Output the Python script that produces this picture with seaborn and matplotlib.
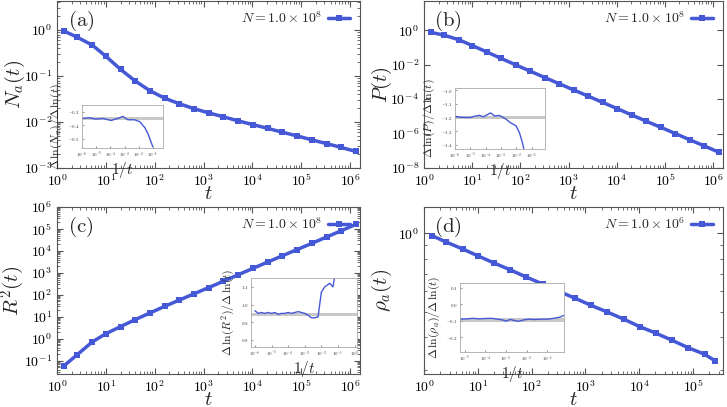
import matplotlib
matplotlib.use("Agg")
import matplotlib.pyplot as plt
from matplotlib.ticker import LogLocator, NullFormatter, FixedLocator
import pandas as pd
import seaborn as sns

# main curves
t_long = [1.4, 2.6, 5.3, 10, 20, 40, 80, 160, 320, 640, 1280, 2560, 5120,
          1.02e4, 2.05e4, 4.1e4, 8.2e4, 1.64e5, 3.3e5, 6.6e5, 1.3e6]
n_a = [0.95, 0.70, 0.47, 0.27, 0.14, 0.078, 0.048, 0.033, 0.025, 0.0195, 0.0158,
       0.0130, 0.0106, 0.0088, 0.0073, 0.0060, 0.0050, 0.0041, 0.0034, 0.0028, 0.0023]
p_surv = [0.75, 0.52, 0.28, 0.13, 0.055, 0.023, 0.0098, 0.0042, 0.0018, 7.8e-4,
          3.4e-4, 1.48e-4, 6.4e-5, 2.8e-5, 1.2e-5, 5.2e-6, 2.3e-6, 1.0e-6,
          4.3e-7, 1.9e-7, 8.3e-8]
r2 = [0.06, 0.19, 0.73, 1.7, 3.6, 7.5, 15, 30, 58, 112, 215, 420, 820,
      1600, 3100, 6000, 1.15e4, 2.2e4, 4.3e4, 8.3e4, 1.6e5]
t_short = [1.4, 2.6, 5.3, 10, 20, 40, 80, 160, 320, 640, 1280, 2560, 5120,
           1.02e4, 2.05e4, 4.1e4, 8.2e4, 1.64e5, 2.6e5]
rho_a = [0.98, 0.925, 0.87, 0.82, 0.77, 0.725, 0.68, 0.64, 0.60, 0.565, 0.53,
         0.50, 0.47, 0.44, 0.415, 0.39, 0.365, 0.345, 0.325]

# local slopes (insets), x = 1/t
inv_a = [1e-6, 3.2e-6, 9.5e-6, 2.8e-5, 1.1e-4, 3.3e-4, 7.6e-4, 1.7e-3, 5.1e-3,
         1.2e-2, 2.7e-2, 4.6e-2, 6.9e-2, 9.5e-2]
slope_a = [-0.35, -0.345, -0.355, -0.35, -0.365, -0.35, -0.335, -0.36, -0.36,
           -0.375, -0.42, -0.47, -0.52, -0.56]
inv_b = [1e-6, 2e-6, 5e-6, 1e-5, 2e-5, 4e-5, 7e-5, 2.1e-4, 4e-4,
         8e-4, 2e-3, 4.4e-3, 9.5e-3, 1.6e-2, 2.6e-2, 3.4e-2]
slope_b = [-1.19, -1.198, -1.20, -1.20, -1.19, -1.185, -1.195, -1.167, -1.19,
           -1.185, -1.21, -1.24, -1.26, -1.31, -1.39, -1.45]
inv_c = [1e-6, 1.6e-6, 2.5e-6, 4e-6, 6.3e-6, 1e-5, 1.6e-5, 2.5e-5, 4e-5, 6.3e-5,
         1e-4, 1.6e-4, 2.5e-4, 4e-4, 6.3e-4, 1e-3, 1.6e-3, 2.5e-3, 4e-3, 6.3e-3,
         1e-2, 1.6e-2, 3.2e-2, 5e-2, 8e-2]
slope_c = [0.965, 0.95, 0.955, 0.95, 0.955, 0.95, 0.955, 0.945, 0.95, 0.95,
           0.955, 0.95, 0.955, 0.96, 0.955, 0.95, 0.94, 0.925, 0.925, 0.93,
           1.07, 1.10, 1.12, 1.10, 1.22]
inv_d = [6.3e-6, 1.3e-5, 2.5e-5, 5e-5, 1e-4, 2e-4, 4e-4, 7e-4, 1e-3, 1.6e-3,
         2.5e-3, 4e-3, 7e-3, 1.2e-2, 2.5e-2, 5e-2, 1e-1, 2e-1, 4e-1, 6e-1]
slope_d = [-0.09, -0.088, -0.085, -0.088, -0.086, -0.085, -0.09, -0.095, -0.102,
           -0.092, -0.098, -0.103, -0.095, -0.09, -0.092, -0.09, -0.09, -0.085,
           -0.078, -0.068]

BLUE = "#4558d6"

sns.set_style("ticks")
plt.rcParams["font.family"] = ["serif"]
plt.rcParams["font.serif"] = ["cmr10", "DejaVu Serif"]
plt.rcParams["mathtext.fontset"] = "cm"
plt.rcParams["axes.formatter.use_mathtext"] = True
plt.rcParams["axes.unicode_minus"] = True

W, H = 727.0, 407.0


def rect(x0, y0, x1, y1):
    return [x0 / W, 1 - y1 / H, (x1 - x0) / W, (y1 - y0) / H]


def style_main(ax):
    ax.set_xscale("log")
    ax.set_yscale("log")
    ax.tick_params(which="both", direction="in", top=True, right=True,
                   colors="#555555", labelcolor="black", labelsize=10)
    ax.tick_params(which="major", length=4)
    ax.tick_params(which="minor", length=2)
    for s in ax.spines.values():
        s.set_color("#555555")
        s.set_linewidth(0.8)
    ax.xaxis.set_major_locator(LogLocator(base=10, numticks=12))
    ax.xaxis.set_minor_locator(LogLocator(base=10, subs=range(2, 10), numticks=12))
    ax.xaxis.set_minor_formatter(NullFormatter())
    ax.set_xlabel(r"$t$", fontsize=15)
    ax.xaxis.set_label_coords(0.5, -0.1)


def main_panel(pos, x, y, ylabel, letter, nlabel, xlim, ylim):
    ax = fig.add_axes(rect(*pos))
    df = pd.DataFrame({"t": x, "v": y})
    sns.lineplot(data=df, x="t", y="v", ax=ax, color=BLUE, linewidth=2.5,
                 marker="s", markersize=4, markeredgewidth=0, label=nlabel)
    style_main(ax)
    ax.set_xlim(*xlim)
    ax.set_ylim(*ylim)
    ax.set_ylabel(ylabel, fontsize=15)
    ax.yaxis.set_label_coords(-0.10, 0.5)
    ax.text(0.035, 0.88, letter, transform=ax.transAxes, fontsize=15,
            va="center", ha="left")
    ax.legend(loc="upper right", frameon=False, fontsize=10, handlelength=1.6,
              markerfirst=False, borderaxespad=0.3, handletextpad=0.4)
    return ax


def inset(pos, x, y, ylabel, xlim, ylim, yticks, band):
    ax = fig.add_axes(rect(*pos))
    ax.axhspan(band[0], band[1], color="#c8c8c8", zorder=0, lw=0)
    df = pd.DataFrame({"inv": x, "s": y})
    sns.lineplot(data=df, x="inv", y="s", ax=ax, color=BLUE, linewidth=1.0)
    ax.set_xscale("log")
    ax.set_xlim(*xlim)
    ax.set_ylim(*ylim)
    ax.yaxis.set_major_locator(FixedLocator(yticks))
    ax.xaxis.set_major_locator(LogLocator(base=10, numticks=12))
    ax.xaxis.set_minor_formatter(NullFormatter())
    ax.tick_params(which="both", direction="in", labelsize=3.5, length=1.5,
                   colors="#999999", labelcolor="#333333", pad=1.5)
    ax.tick_params(which="minor", length=0)
    for s in ax.spines.values():
        s.set_color("#aaaaaa")
        s.set_linewidth(0.6)
    ax.set_xlabel(r"$1/t$", fontsize=11, labelpad=0)
    ax.set_ylabel(ylabel, fontsize=8.5, labelpad=3)
    return ax


fig = plt.figure(figsize=(7.27, 4.07), dpi=100)

main_panel((57, 1, 360, 168), t_long, n_a, r"$N_a(t)$", r"$\mathrm{(a)}$",
           r"$N=1.0\times10^8$", (1, 1.6e6), (1e-3, 4.3))
main_panel((424, 1, 723, 168), t_long, p_surv, r"$P(t)$", r"$\mathrm{(b)}$",
           r"$N=1.0\times10^8$", (1, 1.6e6), (1e-8, 50))
axc = main_panel((57, 207, 360, 374), t_long, r2, r"$R^2(t)$", r"$\mathrm{(c)}$",
                 r"$N=1.0\times10^8$", (1, 1.6e6), (0.025, 1e6))
axc.yaxis.set_major_locator(LogLocator(base=10, numticks=20))
axc.yaxis.set_minor_locator(LogLocator(base=10, subs=range(2, 10), numticks=20))
axc.yaxis.set_minor_formatter(NullFormatter())
axd = main_panel((424, 207, 723, 374), t_short, rho_a, r"$\rho_a(t)$",
                 r"$\mathrm{(d)}$", r"$N=1.0\times10^6$", (1, 3.6e5), (0.29, 1.26))
axd.yaxis.set_major_locator(FixedLocator([1.0]))
axd.set_yticklabels([r"$10^0$"])
axd.yaxis.set_minor_formatter(NullFormatter())

inset((82, 105, 163, 148), inv_a, slope_a,
      r"$\Delta\,\ln(N_a)/\Delta\,\ln(t)$", (1e-6, 0.5), (-0.57, -0.25),
      [-0.3, -0.4, -0.5], (-0.358, -0.342))
inset((455, 88, 545, 149), inv_b, slope_b,
      r"$\Delta\,\ln(P)/\Delta\,\ln(t)$", (1e-6, 0.75), (-1.43, -0.985),
      [-1.0, -1.1, -1.2, -1.3, -1.4], (-1.21, -1.187))
inset((251, 278, 357, 347), inv_c, slope_c,
      r"$\Delta\,\ln(R^2)/\Delta\,\ln(t)$", (5.8e-7, 1.4), (0.76, 1.15),
      [0.8, 0.9, 1.0, 1.1], (0.935, 0.955))
inset((460, 283, 564, 352), inv_d, slope_d,
      r"$\Delta\,\ln(\rho_a)/\Delta\,\ln(t)$", (6e-6, 0.63), (-0.29, 0.13),
      [0.1, 0.0, -0.1, -0.2], (-0.105, -0.085))

fig.savefig("out.png", dpi=100)
